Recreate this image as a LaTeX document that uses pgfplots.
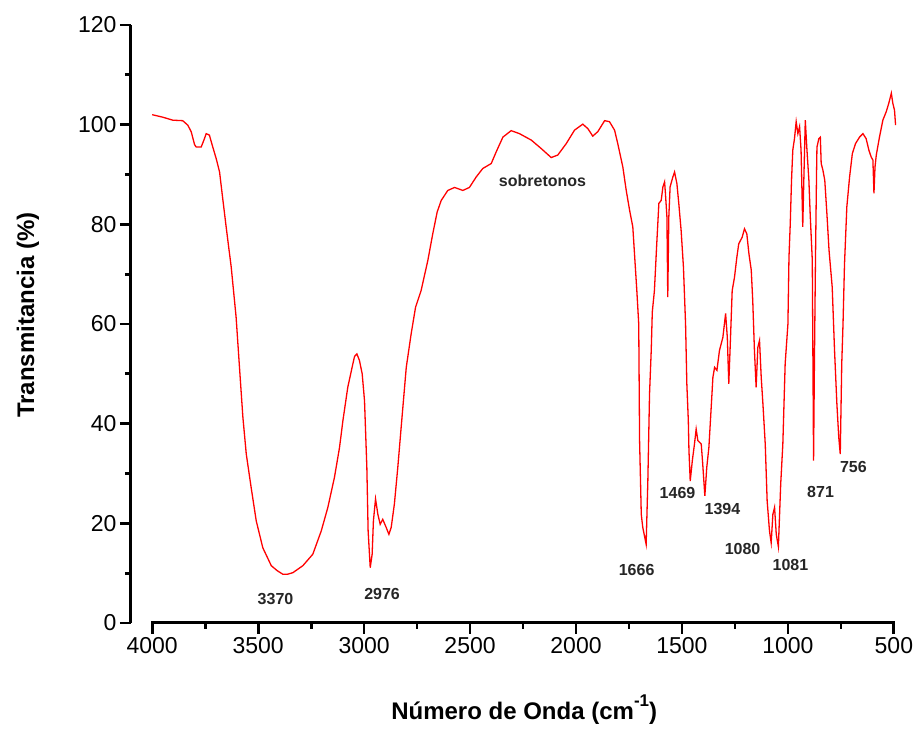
\documentclass[border=0pt]{standalone}
\usepackage{fontspec}
\setmainfont{Liberation Sans}
\usepackage{pgfplots}
\pgfplotsset{compat=1.18}
\begin{document}
\begin{tikzpicture}
\begin{axis}[
  scale only axis,
  width=765pt, height=598pt,
  xmin=490, xmax=4100, x dir=reverse,
  ymin=0, ymax=120,
  axis x line*=bottom, axis y line*=left,
  x axis line style={draw=none},
  y axis line style={line width=3pt},
  xtick={500,1000,...,4000},
  ytick={0,20,...,120},
  minor x tick num=1, minor y tick num=1,
  tick align=outside,
  major tick length=11pt, minor tick length=6pt,
  every tick/.style={line width=2.8pt, black},
  every minor tick/.style={line width=2.8pt, black},
  ticklabel style={font=\fontsize{23}{27}\selectfont},
  /pgf/number format/assume math mode=true,
  /pgf/number format/1000 sep={},
  xlabel={Número de Onda (cm{\raisebox{0.55em}{\fontsize{17}{20}\selectfont -1}})},
  ylabel={Transmitancia (\%)},
  xlabel style={at={(axis description cs:0.514,-0.1455)},anchor=center,font=\fontsize{24}{28}\selectfont\bfseries},
  ylabel style={at={(axis description cs:-0.1346,0.515)},anchor=center,font=\fontsize{24}{28}\selectfont\bfseries},
  clip=false,
]
\draw[line width=3pt, line cap=rect] (axis cs:4000,0) -- (axis cs:500,0);
\addplot[red, line width=1.3pt] table {
4000 102.0
3950 101.5
3903 100.9
3856 100.8
3832 99.9
3816 98.6
3800 96.0
3792 95.5
3769 95.5
3755 97.0
3745 98.2
3730 97.9
3714 95.5
3698 93.2
3682 90.5
3670 86.2
3651 79.5
3627 71.4
3604 61.4
3588 51.3
3572 41.3
3556 33.9
3533 27.2
3509 20.5
3478 15.1
3438 11.5
3410 10.5
3384 9.8
3360 9.8
3336 10.1
3289 11.5
3242 13.8
3202 18.5
3171 23.2
3140 29.2
3116 35.2
3100 40.6
3077 47.3
3053 52.0
3045 53.5
3034 54.0
3022 52.7
3009 50.0
2998 44.6
2987 31.2
2981 18.5
2971 11.1
2962 13.8
2956 20.5
2946 24.9
2935 21.8
2924 19.8
2912 20.8
2896 19.2
2883 17.8
2872 19.2
2857 23.9
2841 31.2
2825 39.3
2801 51.3
2778 58.0
2757 63.4
2731 66.7
2699 72.8
2676 78.1
2655 82.5
2636 84.8
2605 86.8
2573 87.4
2534 86.8
2503 87.4
2471 89.5
2440 91.2
2400 92.2
2377 94.5
2345 97.5
2306 98.8
2267 98.2
2211 96.9
2164 95.2
2117 93.4
2086 93.9
2046 96.2
2007 98.9
1968 100.1
1944 99.2
1921 97.7
1897 98.6
1865 100.8
1842 100.6
1818 98.9
1803 96.2
1779 91.5
1763 86.8
1747 82.8
1732 79.5
1724 74.1
1713 66.7
1704 60.0
1700 36.6
1692 21.8
1685 19.2
1669 15.8
1661 28.5
1653 46.0
1645 54.7
1640 62.4
1630 66.7
1619 76.1
1609 84.2
1598 84.8
1590 87.5
1582 88.5
1578 86.2
1571 81.5
1567 65.4
1562 81.5
1556 87.5
1543 89.5
1535 90.5
1524 88.2
1515 84.2
1504 78.8
1493 71.4
1483 60.0
1477 48.0
1470 40.6
1467 34.6
1461 28.5
1451 32.6
1441 35.9
1433 38.9
1425 36.6
1409 35.9
1402 31.9
1392 25.5
1383 31.2
1373 35.2
1362 43.3
1354 49.3
1346 51.3
1335 50.7
1323 54.7
1307 57.3
1294 62.1
1286 57.3
1279 48.0
1272 56.0
1263 66.7
1252 69.4
1241 73.4
1232 76.1
1216 77.4
1205 79.1
1194 78.1
1184 74.1
1173 70.8
1166 64.7
1158 54.7
1150 47.3
1142 55.3
1134 56.7
1126 49.3
1118 44.0
1107 35.9
1098 24.5
1087 18.5
1079 16.1
1071 21.8
1063 23.2
1055 17.8
1045 15.3
1034 27.9
1024 35.9
1013 52.0
1000 60.0
995 73.4
989 80.1
983 88.8
977 94.9
969 97.2
961 100.6
953 98.2
945 99.6
938 94.9
930 79.5
925 88.8
918 100.9
911 95.5
901 88.8
895 82.1
885 72.8
879 32.6
875 52.0
870 72.8
865 90.0
863 95.5
854 97.2
847 97.5
843 92.2
835 90.9
826 88.8
816 82.1
806 74.8
791 67.4
780 54.7
769 44.0
760 37.2
753 33.9
746 52.0
740 60.0
733 72.0
722 83.5
709 89.5
696 94.2
681 96.2
662 97.5
646 98.2
631 97.2
618 94.9
607 93.5
599 92.9
594 86.2
589 91.5
583 93.9
568 97.5
552 100.9
536 102.6
524 104.3
512 106.3
505 104.3
497 102.9
492 99.9
};
\begin{scope}[every node/.style={font=\fontsize{16}{19}\selectfont\bfseries, text=black!85}]
\node at (axis cs:3418,4.8) {3370};
\node at (axis cs:2915,5.8) {2976};
\node at (axis cs:1714,10.6) {1666};
\node at (axis cs:1521,26.1) {1469};
\node at (axis cs:1309,22.9) {1394};
\node at (axis cs:1214,14.9) {1080};
\node at (axis cs:988,11.7) {1081};
\node at (axis cs:846,26.3) {871};
\node at (axis cs:691,31.3) {756};
\node at (axis cs:2158,88.8) {sobretonos};
\end{scope}
\end{axis}
\path ([xshift=-131pt,yshift=-101pt]current axis.south west) rectangle ([xshift=22pt,yshift=25pt]current axis.north east);
\end{tikzpicture}
\end{document}
